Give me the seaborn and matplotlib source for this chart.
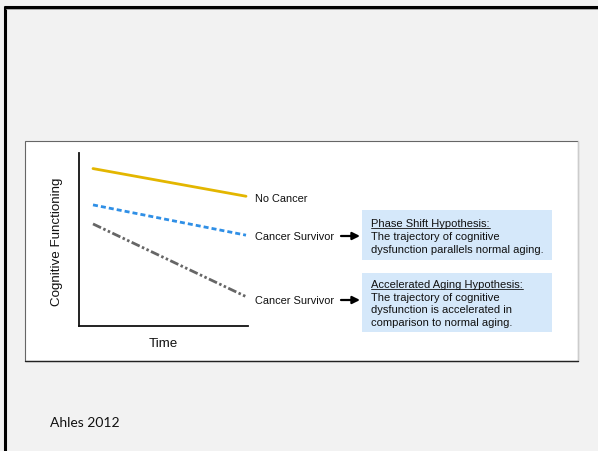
import matplotlib
matplotlib.use("Agg")
import matplotlib.pyplot as plt
from matplotlib.patches import Rectangle, FancyArrowPatch
import pandas as pd
import seaborn as sns

# --- data -------------------------------------------------------------
time_points = [0, 1]
no_cancer = [9.1, 7.5]
phase_shift = [7.0, 5.25]
accelerated_aging = [5.9, 1.7]
series_names = ["No Cancer", "Phase Shift", "Accelerated Aging"]
end_labels = ["No Cancer", "Cancer Survivor", "Cancer Survivor"]

phase_box_lines = ["Phase Shift Hypothesis:",
                   "The trajectory of cognitive",
                   "dysfunction parallels normal aging."]
accel_box_lines = ["Accelerated Aging Hypothesis:",
                   "The trajectory of cognitive",
                   "dysfunction is accelerated in",
                   "comparison to normal aging."]
citation = "Ahles 2012"

df = pd.DataFrame({
    "time": time_points * 3,
    "value": no_cancer + phase_shift + accelerated_aging,
    "group": [s for s in series_names for _ in time_points],
})

# --- styling ----------------------------------------------------------
sns.set_theme(style="white")
plt.rcParams["font.family"] = ["Liberation Sans", "DejaVu Sans"]

W, H = 598, 452
fig = plt.figure(figsize=(W / 100, H / 100), dpi=100)
fig.patch.set_facecolor("#f2f2f2")

# slide layer in pixel coordinates (y down)
bg = fig.add_axes([0, 0, 1, 1])
bg.set_xlim(0, W)
bg.set_ylim(H, 0)
bg.axis("off")
bg.set_zorder(0)

# slide frame
bg.plot([4.5, 4.5], [7, H], color="black", lw=2.2, solid_capstyle="butt")
bg.plot([3.5, W], [8, 8], color="black", lw=2.2, solid_capstyle="butt")
bg.plot([6, W], [9.8, 9.8], color="#9a9a9a", lw=0.6)

# white figure panel
bg.add_patch(Rectangle((25, 142), 553, 220, facecolor="white",
                       edgecolor="#666666", lw=0.8))
bg.plot([578, 578], [142, 362], color="#cccccc", lw=1.0)
bg.plot([25, 578], [362, 362], color="#222222", lw=1.0)

# hypothesis boxes
box_color = "#d5e8fa"
bg.add_patch(Rectangle((362, 211), 190, 50, facecolor=box_color, edgecolor="none"))
bg.add_patch(Rectangle((362, 274), 190, 59, facecolor=box_color, edgecolor="none"))

txt_kw = dict(fontsize=8.05, color="#111111", ha="left", va="baseline")
headers = []
for lines, base in ((phase_box_lines, 227.5), (accel_box_lines, 288.0)):
    for i, line in enumerate(lines):
        t = bg.text(371, base + i * 12.6, line, **txt_kw)
        if i == 0:
            headers.append((t, base))

# arrows pointing to the boxes
for y in (237, 301):
    bg.add_patch(FancyArrowPatch((341, y), (360, y), arrowstyle="-|>",
                                 mutation_scale=11, lw=1.6, color="black",
                                 shrinkA=0, shrinkB=0))

bg.text(50, 427, citation, fontsize=10, family=["Lato", "DejaVu Sans"],
        color="#111111", ha="left", va="baseline")

# --- chart axes -------------------------------------------------------
ax_left, ax_right, ax_top, ax_bottom = 79, 248, 154, 327
ax = fig.add_axes([ax_left / W, (H - ax_bottom) / H,
                   (ax_right - ax_left) / W, (ax_bottom - ax_top) / H])
ax.set_zorder(1)
ax.patch.set_alpha(0)

palette = {"No Cancer": "#e3b600",
           "Phase Shift": "#2f8fe6",
           "Accelerated Aging": "#666666"}
dashes = {"No Cancer": "",
          "Phase Shift": (1.8, 1.1),
          "Accelerated Aging": (3.2, 0.9, 0.9, 0.9, 0.9, 0.9)}

sns.lineplot(data=df, x="time", y="value", hue="group", style="group",
             palette=palette, dashes=dashes, linewidth=2.0, legend=False, ax=ax)

ax.set_xlim(-14 / 153, 1 + 2 / 153)
ax.set_ylim(0, 10)
ax.set_xticks([])
ax.set_yticks([])
for side in ("top", "right"):
    ax.spines[side].set_visible(False)
for side in ("left", "bottom"):
    ax.spines[side].set_color("#111111")
    ax.spines[side].set_linewidth(1.3)

ax.set_xlabel("Time", fontsize=9.6, color="#111111")
ax.set_ylabel("Cognitive Functioning", fontsize=9.6, color="#111111")
ax.xaxis.label.set_va("center")
ax.yaxis.label.set_va("center")
ax.xaxis.set_label_coords((163 - ax_left) / (ax_right - ax_left),
                          (ax_bottom - 344) / (ax_bottom - ax_top))
ax.yaxis.set_label_coords((57 - ax_left) / (ax_right - ax_left),
                          (ax_bottom - 242) / (ax_bottom - ax_top))

# end-of-line labels
label_dy = [-1.3, -0.6, -2.5]
for label, vals, dy in zip(end_labels, (no_cancer, phase_shift, accelerated_aging), label_dy):
    ax.annotate(label, xy=(time_points[-1], vals[-1]), xytext=(6.5, dy),
                textcoords="offset points", ha="left", va="center",
                fontsize=7.9, color="#111111", annotation_clip=False)

# underline the box headers
fig.canvas.draw()
inv = bg.transData.inverted()
for t, base in headers:
    bb = t.get_window_extent()
    x0, _ = inv.transform((bb.x0, bb.y0))
    x1, _ = inv.transform((bb.x1, bb.y0))
    bg.plot([x0, x1], [base + 1.6, base + 1.6], color="#111111", lw=0.6)

fig.savefig("out.png", dpi=100, facecolor=fig.get_facecolor())
